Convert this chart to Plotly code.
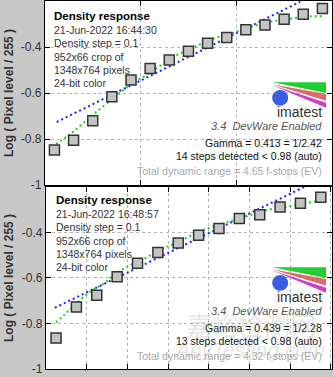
import plotly.graph_objects as go

W, H = 333, 377

def px(x):
    return x / W

def py(y):
    return 1 - y / H

# ---------------- data ----------------
top_x = [0.05, 0.15, 0.25, 0.35, 0.45, 0.55, 0.65, 0.75, 0.85, 0.95, 1.05, 1.15, 1.25, 1.35, 1.45]
top_y = [-0.848, -0.805, -0.721, -0.616, -0.544, -0.494, -0.456, -0.418, -0.384, -0.359,
         -0.325, -0.304, -0.279, -0.258, -0.233]
top_blue_x = [0.062, 1.334]
top_blue_y = [-0.726, -0.203]
top_green_x = [0.036, 0.130, 0.249, 0.374, 0.451, 0.519, 0.597, 0.690, 0.778, 0.882,
               0.986, 1.090, 1.193, 1.297, 1.386, 1.463]
top_green_y = [-0.835, -0.780, -0.696, -0.612, -0.561, -0.528, -0.485, -0.435, -0.401, -0.363,
               -0.338, -0.309, -0.288, -0.275, -0.267, -0.267]

bot_x = [0.05, 0.15, 0.25, 0.35, 0.45, 0.55, 0.65, 0.75, 0.85, 0.95, 1.05, 1.15, 1.25, 1.35]
bot_y = [-0.864, -0.727, -0.676, -0.595, -0.535, -0.488, -0.446, -0.412, -0.382, -0.339,
         -0.322, -0.288, -0.271, -0.245]
bot_blue_x = [0.044, 1.273]
bot_blue_y = [-0.731, -0.198]
bot_green_x = [0.049, 0.088, 0.151, 0.220, 0.283, 0.341, 0.395, 0.478, 0.561, 0.639,
               0.771, 0.868, 0.966, 1.088, 1.176, 1.273, 1.341]
bot_green_y = [-0.795, -0.765, -0.710, -0.659, -0.625, -0.582, -0.552, -0.518, -0.476, -0.446,
               -0.390, -0.361, -0.335, -0.301, -0.288, -0.271, -0.262]

ytick_vals = [-1, -0.8, -0.6, -0.4, -0.2]
ytick_text = ["-1", "-0.8", "-0.6", "-0.4", ""]

top_info = ["21-Jun-2022 16:44:30", "Density step = 0.1", "952x66 crop of",
            "1348x764 pixels", "24-bit color"]
bot_info = ["21-Jun-2022 16:48:57", "Density step = 0.1", "952x66 crop of",
            "1348x764 pixels", "24-bit color"]
top_stats = ["Gamma = 0.413 = 1/2.42", "14 steps detected < 0.98 (auto)",
             "Total dynamic range = 4.65 f-stops (EV)"]
bot_stats = ["Gamma = 0.439 = 1/2.28", "13 steps detected < 0.98 (auto)",
             "Total dynamic range = 4.32 f-stops (EV)"]

FONT = "Arial, Liberation Sans, sans-serif"
dotline = "2px,3px"

fig = go.Figure()

for xa, ya, bx, by, gx, gy, mx, my in [
    ("x", "y", top_blue_x, top_blue_y, top_green_x, top_green_y, top_x, top_y),
    ("x2", "y2", bot_blue_x, bot_blue_y, bot_green_x, bot_green_y, bot_x, bot_y),
]:
    fig.add_trace(go.Scatter(x=bx, y=by, mode="lines", xaxis=xa, yaxis=ya,
                             line=dict(color="#1f1fff", width=2, dash=dotline),
                             showlegend=False, hoverinfo="skip"))
    fig.add_trace(go.Scatter(x=gx, y=gy, mode="lines", xaxis=xa, yaxis=ya,
                             line=dict(color="#22cc22", width=2, dash=dotline, shape="spline"),
                             showlegend=False, hoverinfo="skip"))
    fig.add_trace(go.Scatter(x=mx, y=my, mode="markers", xaxis=xa, yaxis=ya,
                             marker=dict(symbol="square", size=10, color="#c4c4c4",
                                         line=dict(color="#333333", width=1.5)),
                             showlegend=False))

axis_common = dict(showline=True, linecolor="#000000", linewidth=1, mirror="allticks",
                   ticks="inside", ticklen=5, tickcolor="#000000", zeroline=False,
                   showgrid=True, gridcolor="#b4b4b4", griddash="dot", gridwidth=1)

fig.update_layout(
    width=W, height=H, margin=dict(l=0, r=0, t=0, b=0),
    paper_bgcolor="#c8c8c8", plot_bgcolor="#ffffff",
    font=dict(family=FONT, size=12, color="#222222"),
    xaxis=dict(domain=[45 / W, 1], range=[0, 1.5], tickvals=[0.5, 1.0],
               showticklabels=False, anchor="y", **axis_common),
    yaxis=dict(domain=[py(188), 1], range=[-1, -0.2], tickvals=ytick_vals,
               ticktext=ytick_text, anchor="x", tickfont=dict(size=12, color="#333333"),
               **axis_common),
    xaxis2=dict(domain=[46 / W, 1], range=[0, 1.405], tickvals=[0.2, 0.4, 0.6, 0.8, 1.0, 1.2, 1.4],
                showticklabels=False, anchor="y2", **axis_common),
    yaxis2=dict(domain=[py(376), py(190)], range=[-1, -0.2], tickvals=ytick_vals,
                ticktext=ytick_text, anchor="x2", tickfont=dict(size=12, color="#333333"),
                **axis_common),
)

ann = []
shapes = []

def add_panel(off, left, info, stats, title_y):
    ann.append(dict(x=px(left), y=py(title_y), xref="paper", yref="paper", xanchor="left",
                    yanchor="middle", showarrow=False, text="<b>Density response</b>",
                    font=dict(size=11.5, color="#000000", family=FONT)))
    for i, t in enumerate(info):
        ann.append(dict(x=px(left), y=py(title_y + 15 + 13.4 * i), xref="paper", yref="paper",
                        xanchor="left", yanchor="middle", showarrow=False, text=t,
                        font=dict(size=10.5, color="#333333", family=FONT)))
    # y-axis title
    ann.append(dict(x=px(9), y=py(94 + off), xref="paper", yref="paper", xanchor="center",
                    yanchor="middle", showarrow=False, textangle=-90,
                    text="<b>Log ( Pixel level / 255 )</b>",
                    font=dict(size=12, color="#333333", family=FONT)))
    # logo
    shapes.append(dict(type="path", xref="paper", yref="paper", line=dict(width=0),
                       fillcolor="#22cc33",
                       path=f"M{px(273)},{py(83+off)} L{px(327)},{py(83+off)} L{px(327)},{py(94+off)} Z"))
    shapes.append(dict(type="path", xref="paper", yref="paper", line=dict(width=0),
                       fillcolor="#e06a6a",
                       path=f"M{px(273)},{py(85+off)} L{px(327)},{py(95+off)} L{px(327)},{py(102+off)} Z"))
    shapes.append(dict(type="path", xref="paper", yref="paper", line=dict(width=0),
                       fillcolor="#cc3fcc",
                       path=f"M{px(273)},{py(86+off)} L{px(327)},{py(104+off)} L{px(327)},{py(109+off)} Z"))
    shapes.append(dict(type="circle", xref="paper", yref="paper", line=dict(width=0),
                       fillcolor="#3a5ee0",
                       x0=px(273), x1=px(289), y0=py(107 + off), y1=py(91 + off)))
    ann.append(dict(x=px(325), y=py(113 + off), xref="paper", yref="paper", xanchor="right",
                    yanchor="middle", showarrow=False, text="imatest",
                    font=dict(size=14, color="#333333", family=FONT)))
    ann.append(dict(x=px(325), y=py(128 + off), xref="paper", yref="paper", xanchor="right",
                    yanchor="middle", showarrow=False, text="<i>3.4  DevWare Enabled</i>",
                    font=dict(size=11, color="#555555", family=FONT)))
    cols = ["#111111", "#111111", "#a8a8a8"]
    ys = [145, 158.5, 174]
    for t, c, yy in zip(stats, cols, ys):
        ann.append(dict(x=px(325), y=py(yy + off), xref="paper", yref="paper", xanchor="right",
                        yanchor="middle", showarrow=False, text=t,
                        font=dict(size=10.5, color=c, family=FONT)))

add_panel(0, 52, top_info, top_stats, 15)
add_panel(189, 54, bot_info, bot_stats, 203)

# faint watermark in lower panel
ann.append(dict(x=px(252), y=py(331), xref="paper", yref="paper", xanchor="center",
                yanchor="middle", showarrow=False, text="嘉峪检测网",
                font=dict(size=26, color="rgba(150,150,150,0.25)", family="Noto Sans CJK SC")))
ann.append(dict(x=px(250), y=py(356), xref="paper", yref="paper", xanchor="center",
                yanchor="middle", showarrow=False, text="<i>AnyTesting.com</i>",
                font=dict(size=21, color="rgba(150,150,150,0.25)", family=FONT)))

fig.update_layout(annotations=ann, shapes=shapes)

fig.write_html("out.html")
